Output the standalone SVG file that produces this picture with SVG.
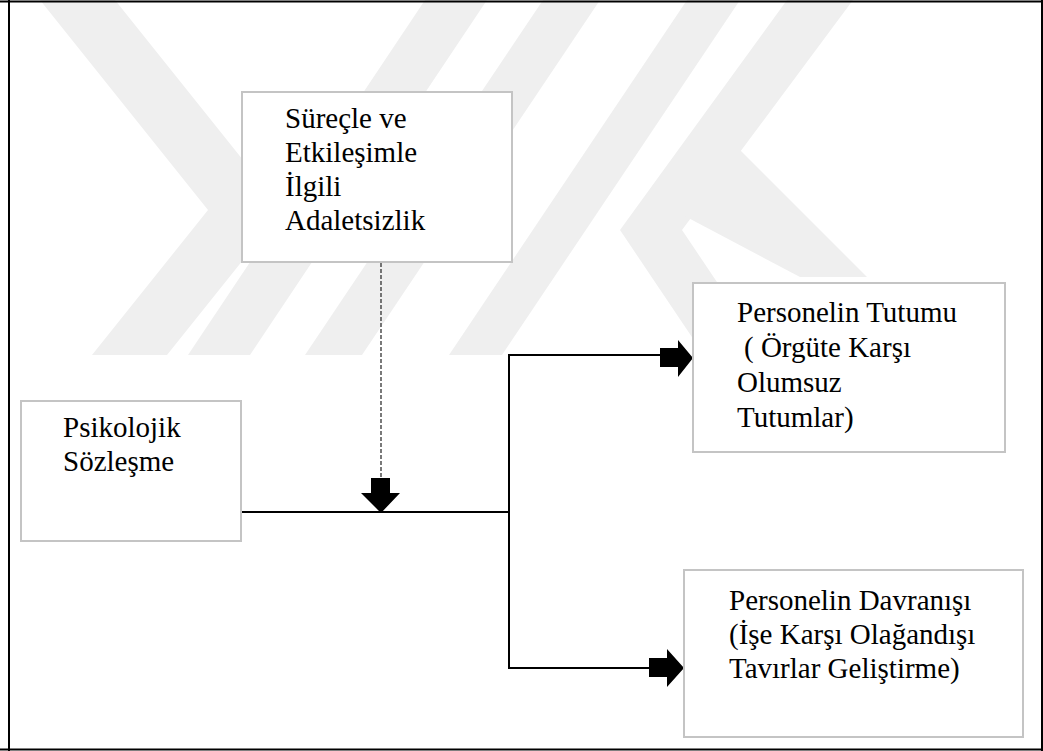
<svg xmlns="http://www.w3.org/2000/svg" width="1043" height="751" viewBox="0 0 1043 751">
<style>
.wm{fill:#efefef}
.box{fill:#ffffff;stroke:#c4c4c4;stroke-width:2}
.t{font-size:29px;fill:#000}
.ln{stroke:#000;stroke-width:2;fill:none}
.arr{fill:#000}
</style>
<rect width="1043" height="751" fill="#fff"/>
<g id="watermark">
<polygon class="wm" points="40,0 115,0 283,210 167,355 92,355 208,210"/>
<polygon class="wm" points="425,0 487,0 250,355 188,355"/>
<polygon class="wm" points="543,0 600,0 362,355 305,355"/>
<polygon class="wm" points="687,0 740,0 502,355 449,355"/>
<polygon class="wm" points="787,0 853,0 682,230 766,355 704,355 620,230"/>
<polygon class="wm" points="727,137 867,277 800,277 660,203"/>
</g>
<g id="frame">
<line class="ln" x1="0" y1="1.5" x2="1043" y2="1.5"/>
<line class="ln" x1="9" y1="0" x2="9" y2="751"/>
<line class="ln" x1="0" y1="749.5" x2="1043" y2="749.5"/>
<line class="ln" x1="1042" y1="0" x2="1042" y2="751"/>
</g>
<g id="connectors">
<line x1="381" y1="263" x2="381" y2="479" stroke="#222" stroke-width="1.2" stroke-dasharray="4,2"/>
<polygon class="arr" points="371,478 390,478 390,493 400,493 381,513 361,493 371,493"/>
<polyline class="ln" points="241,512 509,512"/>
<polyline class="ln" points="660,355 509,355 509,668 649,668"/>
<polygon class="arr" points="660,348 678,348 678,340 693,358 678,377 678,367 660,367"/>
<polygon class="arr" points="649,658 667,658 667,649 684,668 667,687 667,677 649,677"/>
</g>
<g font-family="'Liberation Serif', Tinos, 'Times New Roman', 'DejaVu Serif', serif">
<g id="node-adaletsizlik">
<rect class="box" x="242" y="92" width="270" height="170"/>
<text class="t" x="285" y="128">Süreçle ve</text>
<text class="t" x="285" y="162">Etkileşimle</text>
<text class="t" x="285" y="196">İlgili</text>
<text class="t" x="285" y="230">Adaletsizlik</text>
</g>
<g id="node-psikolojik">
<rect class="box" x="21" y="401" width="220" height="140"/>
<text class="t" x="63" y="437">Psikolojik</text>
<text class="t" x="63" y="471">Sözleşme</text>
</g>
<g id="node-tutum">
<rect class="box" x="693" y="283" width="312" height="169"/>
<text class="t" x="737" y="322">Personelin Tutumu</text>
<text class="t" x="744" y="357">( Örgüte Karşı</text>
<text class="t" x="737" y="392">Olumsuz</text>
<text class="t" x="737" y="427">Tutumlar)</text>
</g>
<g id="node-davranis">
<rect class="box" x="684" y="570" width="339" height="167"/>
<text class="t" x="729" y="610">Personelin Davranışı</text>
<text class="t" x="729" y="644">(İşe Karşı Olağandışı</text>
<text class="t" x="729" y="678">Tavırlar Geliştirme)</text>
</g>
</g>
</svg>
